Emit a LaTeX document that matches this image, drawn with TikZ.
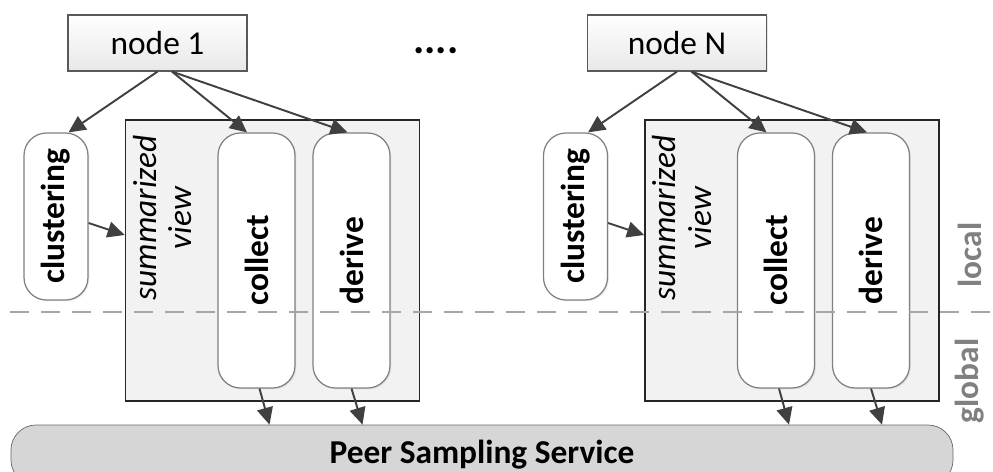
\documentclass[tikz,border=0pt]{standalone}
\usepackage{fontspec}
\setmainfont{Carlito}
\usetikzlibrary{arrows.meta,shadows}
\newcommand{\figfont}{\fontsize{19}{20}\selectfont}
\colorlet{cline}{black!75}
\colorlet{cedge}{black!50}
\colorlet{cview}{black!5}
\colorlet{clayer}{black!50}
\tikzset{
  host/.style={draw=black!65, top color=white, bottom color=black!9, minimum width=3.58cm,
               minimum height=1.12cm, inner sep=0pt, line width=0.7pt, font=\figfont,
               drop shadow={opacity=0.2, shadow xshift=0.8pt, shadow yshift=-0.8pt}},
  task/.style={draw=cedge, fill=white, rounded corners=0.45cm, minimum width=#1,
               inner sep=0pt, line width=0.7pt, font=\figfont\bfseries,
               drop shadow={opacity=0.15, shadow xshift=0.8pt, shadow yshift=-0.8pt}},
  viewbox/.style={draw=black!85, fill=cview, minimum width=5.88cm, minimum height=5.62cm,
                  inner sep=0pt, line width=1pt},
  flow/.style={-{Triangle[length=3.4mm,width=3.2mm]}, line width=1.1pt, cline},
  layer/.style={font=\figfont\bfseries, text=clayer, rotate=90, inner sep=0pt},
}

\begin{document}
\begin{tikzpicture}[x=1cm, y=1cm]
\useasboundingbox (0,0) rectangle (19.86,-9.44);
\clip (0,0) rectangle (19.86,-9.44);

% one column per host, the second one shifted to the right
\foreach \i/\dx in {1/0, N/10.39} {
  \begin{scope}[xshift=\dx cm]
    \node[host] (h\i) at (3.15,-0.86) {node \i};
    \node[viewbox] (v\i) at (5.45,-5.21) {};
    \node[rotate=90, align=center, font=\figfont\itshape] (sv\i) at (3.25,-4.36) {summarized\\view};
    \node[task=1.28cm, minimum height=3.34cm] (cl\i) at (1.12,-4.33) {\rotatebox{90}{clustering}};
    \node[task=1.54cm, minimum height=5.1cm] (co\i) at (5.13,-5.21) {\rotatebox{90}{collect}};
    \node[task=1.54cm, minimum height=5.1cm] (de\i) at (7.03,-5.21) {\rotatebox{90}{derive}};
  \end{scope}
}

\node[draw=black!60, fill=black!16, rounded corners=0.5cm, minimum width=18.84cm,
      minimum height=1.2cm, inner sep=0pt, font=\figfont\bfseries] (ps) at (9.64,-9.1)
  {Peer Sampling Service};

\node[anchor=base, font=\fontsize{24}{24}\selectfont\bfseries] (dots) at (8.72,-1.07) {....};

\foreach \i in {1,N} {
  \draw[flow] (h\i.south) -- ([xshift=0.25cm]cl\i.north);
  \draw[flow] ([xshift=0.29cm]h\i.south) -- ([xshift=-0.19cm]co\i.north);
  \draw[flow] ([xshift=0.29cm]h\i.south) -- ([xshift=-0.08cm]de\i.north);
  \draw[flow] ([yshift=-0.13cm]cl\i.east) -- ([yshift=0.51cm]v\i.west);
  \draw[flow] ([xshift=0.06cm]co\i.south) -- ([xshift=0.26cm]co\i.south |- ps.north);
  \draw[flow] ([xshift=0.0cm]de\i.south) -- ([xshift=0.22cm]de\i.south |- ps.north);
}

% border between the local and the global part
\coordinate (lw) at (0.2,-6.24);
\coordinate (le) at (19.86,-6.24);
\draw[black!35, line width=1.2pt, dash pattern=on 0.38cm off 0.24cm] (lw) -- (le);
\node[layer] (loc) at (19.4,-5.1) {local};
\node[layer] (glb) at (19.4,-7.62) {global};
\end{tikzpicture}
\end{document}
